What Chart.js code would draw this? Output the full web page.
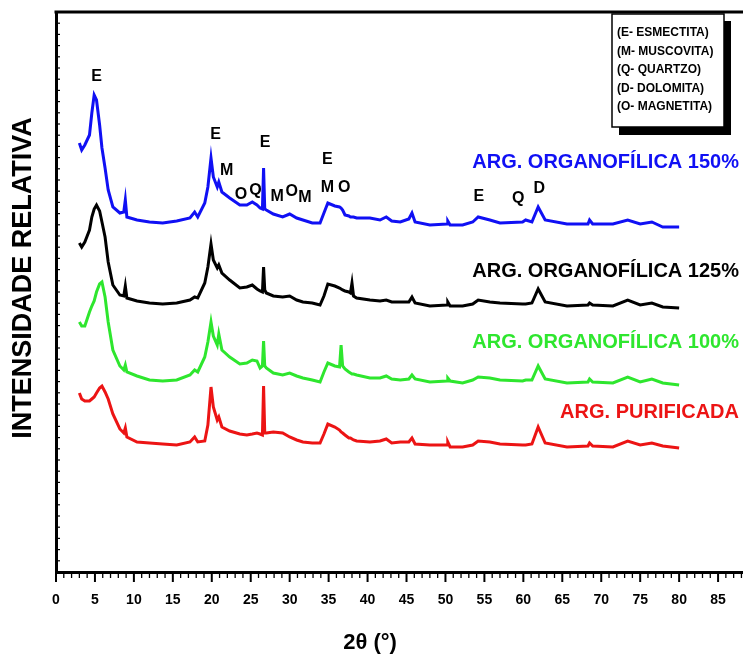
<!DOCTYPE html>
<html lang="pt">
<head>
<meta charset="UTF-8">
<title>DRX - argilas</title>
<script src="https://cdn.jsdelivr.net/npm/chart.js@4.4.1/dist/chart.umd.min.js"></script>
<style>
  html, body { margin: 0; padding: 0; background: #fff; overflow: hidden; }
  #wrap { width: 743px; height: 659px; }
</style>
</head>
<body>
<div id="wrap"><canvas id="chart"></canvas></div>
<script>
// 2theta (graus)
const theta = [3.0, 3.3, 3.7, 4.3, 4.6, 4.9, 5.2, 5.6, 5.9, 6.3,
  6.7, 7.3, 8.2, 8.7, 8.9, 9.1, 10.4, 12.0, 13.7, 15.5,
  17.2, 17.8, 18.2, 19.1, 19.5, 19.9, 20.2, 20.7, 20.9, 21.3,
  22.3, 23.6, 24.5, 25.2, 25.8, 26.2, 26.5, 26.65, 26.8, 27.0,
  27.9, 29.1, 30.0, 30.9, 31.7, 32.9, 33.9, 34.4, 34.9, 35.8,
  36.4, 36.6, 36.8, 37.1, 37.6, 37.8, 38.0, 38.2, 38.6, 40.3,
  41.6, 42.4, 43.1, 44.2, 45.3, 45.7, 46.1, 48.0, 50.2, 50.3,
  50.6, 52.2, 53.5, 54.2, 55.7, 57.0, 59.9, 60.3, 61.1, 61.9,
  62.8, 65.6, 68.3, 68.5, 68.9, 71.5, 73.4, 75.0, 76.5, 77.9, 80.0];

// intensidade relativa (unidades arbitrarias, curvas deslocadas)
const org150 = [429, 422, 427, 437, 459, 477, 472, 447, 424, 404,
  382, 365, 359, 360, 372, 355, 352, 350, 349, 351,
  354, 360, 355, 369, 385, 414, 395, 385, 390, 380,
  374, 367, 367, 370, 367, 364, 363, 404, 363, 362,
  358, 355, 358, 354, 352, 349, 349, 359, 369, 366,
  365, 364, 362, 357, 356, 355, 355, 355, 354, 354,
  352, 355, 351, 350, 353, 359, 350, 347, 348, 351,
  347, 347, 350, 355, 352, 349, 350, 352, 350, 365,
  352, 348, 348, 352, 348, 348, 352, 348, 350, 345, 345];

const org125 = [329, 325, 330, 342, 355, 363, 367, 361, 350, 335,
  310, 287, 277, 276, 286, 274, 271, 269, 268, 269,
  272, 275, 274, 289, 305, 328, 312, 304, 307, 299,
  292, 284, 285, 287, 283, 281, 280, 305, 282, 279,
  276, 275, 276, 272, 270, 269, 267, 276, 288, 286,
  284, 283, 282, 281, 280, 279, 289, 276, 274, 272,
  271, 272, 270, 270, 270, 275, 269, 266, 267, 270,
  266, 266, 268, 272, 270, 269, 268, 268, 269, 283,
  270, 266, 267, 269, 267, 266, 272, 267, 269, 265, 264];

const org100 = [250, 246, 246, 260, 266, 271, 280, 288, 290, 275,
  250, 222, 206, 202, 207, 200, 196, 192, 191, 192,
  197, 202, 200, 215, 230, 250, 236, 227, 238, 222,
  215, 208, 209, 212, 211, 204, 206, 231, 206, 204,
  199, 197, 199, 196, 194, 192, 190, 200, 209, 206,
  205, 227, 206, 203, 200, 199, 198, 198, 197, 194,
  194, 196, 193, 192, 193, 197, 193, 190, 191, 194,
  191, 189, 192, 195, 194, 192, 191, 192, 192, 206,
  193, 189, 190, 193, 190, 189, 195, 190, 193, 189, 187];

const purificada = [179, 173, 171, 171, 173, 175, 179, 184, 186, 180,
  173, 158, 143, 139, 144, 135, 130, 129, 128, 127,
  130, 135, 130, 131, 147, 185, 165, 152, 155, 145,
  141, 138, 137, 138, 139, 138, 137, 186, 139, 139,
  140, 139, 135, 132, 130, 129, 129, 138, 148, 145,
  142, 140, 139, 137, 134, 134, 133, 132, 131, 130,
  131, 133, 129, 130, 130, 134, 128, 127, 127, 130,
  125, 125, 127, 131, 130, 128, 127, 127, 128, 145,
  129, 125, 126, 129, 126, 125, 131, 127, 129, 126, 124];

const seriesNames = ['ARG. ORGANOFÍLICA 150%', 'ARG. ORGANOFÍLICA 125%', 'ARG. ORGANOFÍLICA 100%', 'ARG. PURIFICADA'];
const seriesColors = ['#1010f4', '#000000', '#2ee62e', '#ec1414'];
const labelLevel = [410, 301, 230, 160];

const phases = ['(E- ESMECTITA)', '(M- MUSCOVITA)', '(Q- QUARTZO)', '(D- DOLOMITA)', '(O- MAGNETITA)'];

// picos identificados (letra, 2theta, altura do texto)
const peakText = ['E', 'E', 'M', 'O', 'Q', 'E', 'M', 'O', 'M', 'E', 'M', 'O', 'E', 'Q', 'D'];
const peakTheta = [5.2, 20.5, 21.9, 23.75, 25.6, 26.85, 28.4, 30.25, 31.95, 34.85, 34.85, 37.0, 54.3, 59.35, 62.05];
const peakLevel = [495, 437, 401, 377, 381, 429, 375, 380, 374, 412, 384, 384, 375, 373, 383];

const FONT = '"Liberation Sans", Arial, sans-serif';

const decor = {
  id: 'decor',
  afterDraw(chart) {
    const { ctx, chartArea: a, scales: { x, y } } = chart;
    ctx.save();
    ctx.strokeStyle = '#000';
    // linha de cima
    ctx.lineWidth = 3;
    ctx.beginPath();
    ctx.moveTo(a.left - 1.5, a.top);
    ctx.lineTo(a.right, a.top);
    ctx.stroke();
    // ticks do eixo x
    for (let v = 0; v <= x.max; v++) {
      const px = x.getPixelForValue(v);
      const major = v % 5 === 0;
      ctx.lineWidth = major ? 2 : 1.3;
      ctx.beginPath();
      ctx.moveTo(px, a.bottom);
      ctx.lineTo(px, a.bottom + (major ? 10 : 6));
      ctx.stroke();
    }
    // ticks internos do eixo y
    ctx.lineWidth = 1.2;
    y.ticks.forEach(t => {
      const py = y.getPixelForValue(t.value);
      ctx.beginPath();
      ctx.moveTo(a.left, py);
      ctx.lineTo(a.left + 4, py);
      ctx.stroke();
    });

    // letras dos picos
    ctx.fillStyle = '#000';
    ctx.textAlign = 'center';
    ctx.textBaseline = 'middle';
    ctx.font = 'bold 16px ' + FONT;
    peakText.forEach((t, i) => {
      ctx.fillText(t, x.getPixelForValue(peakTheta[i]), y.getPixelForValue(peakLevel[i]));
    });

    // nomes das curvas
    ctx.textAlign = 'right';
    ctx.font = 'bold 20px ' + FONT;
    seriesNames.forEach((n, i) => {
      ctx.fillStyle = seriesColors[i];
      ctx.fillText(n, 739, y.getPixelForValue(labelLevel[i]));
    });

    // caixa das fases
    ctx.fillStyle = '#000';
    ctx.fillRect(619, 21, 112, 114);
    ctx.fillStyle = '#fff';
    ctx.fillRect(612, 14, 112, 113);
    ctx.lineWidth = 1.5;
    ctx.strokeRect(612, 14, 112, 113);
    ctx.fillStyle = '#000';
    ctx.textAlign = 'left';
    ctx.font = 'bold 12px ' + FONT;
    phases.forEach((p, i) => {
      ctx.fillText(p, 617, 33 + i * 18.5);
    });

    // titulos dos eixos
    ctx.textAlign = 'center';
    ctx.font = 'bold 22px ' + FONT;
    ctx.fillText('2θ (°)', 370, 643);
    ctx.translate(24, 278);
    ctx.rotate(-Math.PI / 2);
    ctx.font = 'bold 27px ' + FONT;
    ctx.fillText('INTENSIDADE RELATIVA', 0, 0);
    ctx.restore();
  }
};

const series = [org150, org125, org100, purificada];

new Chart(document.getElementById('chart'), {
  type: 'line',
  data: {
    datasets: series.map((s, i) => ({
      label: seriesNames[i],
      data: theta.map((t, j) => ({ x: t, y: s[j] })),
      borderColor: seriesColors[i],
      borderWidth: 3,
      pointRadius: 0,
      tension: 0,
      fill: false
    }))
  },
  options: {
    responsive: true,
    maintainAspectRatio: false,
    animation: false,
    layout: { padding: { top: 12, right: 0, left: 0, bottom: 0 } },
    plugins: { legend: { display: false }, tooltip: { enabled: false } },
    scales: {
      x: {
        type: 'linear',
        min: 0,
        max: 88.2,
        afterFit: s => { s.height = 87; s.paddingRight = 0; s.paddingLeft = 0; },
        border: { display: true, color: '#000', width: 3 },
        grid: { drawOnChartArea: false, drawTicks: true, tickLength: 8, tickColor: 'rgba(0,0,0,0)' },
        ticks: {
          stepSize: 1,
          autoSkip: false,
          maxRotation: 0,
          padding: 12,
          color: '#000',
          font: { family: FONT, weight: 'bold', size: 14 },
          callback: v => (v % 5 === 0 ? v : '')
        }
      },
      y: {
        min: 0,
        max: 560,
        afterFit: s => { s.width = 56; },
        border: { display: true, color: '#000', width: 3 },
        grid: { drawOnChartArea: false, drawTicks: false },
        ticks: { display: false, stepSize: 11.2 }
      }
    }
  },
  plugins: [decor]
});
</script>
</body>
</html>
